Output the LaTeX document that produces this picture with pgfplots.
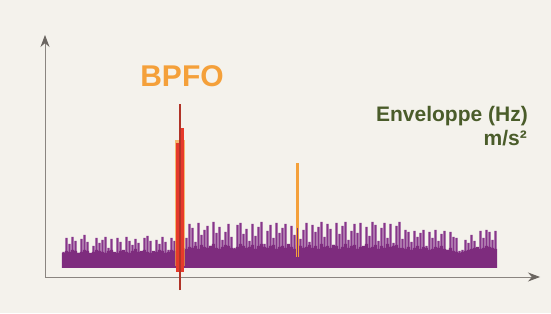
\documentclass[border=0pt]{standalone}
\usepackage{pgfplots}
\usepackage{pgfplotstable}
\pgfplotsset{compat=1.18}
\usepackage{fontspec}
\setmainfont{Liberation Sans}
\usetikzlibrary{arrows.meta}
\definecolor{bg}{HTML}{F4F2EC}
\definecolor{axgray}{HTML}{8A8580}
\definecolor{axdark}{HTML}{6A6560}
\definecolor{purp}{HTML}{7E2C7E}
\definecolor{purplight}{HTML}{86358A}
\definecolor{pkred}{HTML}{E63A2B}
\definecolor{pkdark}{HTML}{B03428}
\definecolor{pkorange}{HTML}{F4A03A}
\definecolor{txtgreen}{HTML}{4A5C2A}
% spike heights (one per 3 px step)
\pgfplotstableread[header=false,row sep=\\]{
16\\30\\24\\31\\27\\15\\29\\33\\26\\14\\
22\\30\\25\\28\\31\\20\\29\\15\\30\\26\\
16\\31\\27\\23\\29\\25\\16\\30\\32\\27\\
15\\28\\24\\31\\26\\18\\30\\27\\
20\\22\\20\\
30\\44\\40\\26\\45\\33\\38\\42\\22\\46\\
35\\41\\28\\36\\44\\31\\20\\43\\45\\34\\
39\\27\\44\\32\\41\\46\\24\\37\\43\\30\\
45\\35\\40\\44\\21\\42\\33\\46\\29\\38\\
45\\26\\43\\36\\41\\46\\31\\44\\39\\23\\
45\\34\\42\\46\\28\\37\\44\\35\\45\\19\\
41\\32\\46\\43\\27\\40\\45\\30\\44\\25\\
42\\46\\
29\\38\\36\\26\\37\\31\\35\\38\\22\\36\\
30\\38\\27\\34\\37\\18\\36\\31\\30\\17\\
18\\28\\25\\33\\27\\20\\37\\30\\38\\36\\
28\\37\\
}\spikedata
% solid band heights (one per 3 px step)
\pgfplotstableread[header=false,row sep=\\]{
15\\17\\16\\18\\17\\15\\16\\18\\17\\15\\
16\\18\\17\\16\\15\\17\\18\\16\\15\\17\\
18\\16\\15\\17\\19\\16\\17\\18\\16\\15\\
17\\16\\18\\17\\15\\16\\18\\17\\
18\\18\\18\\
19\\21\\20\\22\\19\\23\\21\\20\\22\\24\\
20\\19\\21\\23\\22\\20\\19\\21\\24\\22\\
20\\21\\23\\19\\22\\24\\21\\20\\22\\23\\
19\\21\\22\\20\\24\\21\\19\\23\\22\\20\\
21\\23\\20\\22\\19\\24\\21\\22\\20\\23\\
22\\19\\21\\24\\20\\22\\23\\19\\21\\22\\
24\\20\\21\\23\\19\\22\\20\\24\\21\\22\\
23\\20\\
20\\19\\21\\18\\20\\22\\19\\21\\20\\18\\
19\\21\\20\\22\\19\\18\\20\\17\\16\\15\\
16\\17\\18\\19\\20\\21\\19\\20\\22\\21\\
20\\19\\
}\basedata
\begin{document}
\begin{tikzpicture}
\fill[bg] (-45pt,-36pt) rectangle (506pt,277pt);
\begin{axis}[
  at={(0,0)}, anchor=south west,
  scale only axis, width=495pt, height=242pt,
  xmin=0, xmax=495, ymin=-9, ymax=233,
  axis lines=left,
  axis line style={draw=axgray, line width=0.9pt, -{Stealth[length=12pt,width=9pt,color=axdark]}},
  xtick=\empty, ytick=\empty,
  clip=false,
]
\addplot[ybar, bar width=2.3, fill=purplight, draw=none]
  table[x expr=\coordindex*3+18.5, y index=0] {\spikedata};
\addplot[ybar, bar width=3.3, fill=purp, draw=none]
  table[x expr=\coordindex*3+18.5, y index=0] {\basedata};
% BPFO peak
\addplot[pkorange, line width=10pt, opacity=0.7] coordinates {(135,2) (135,128)};
\addplot[pkred, line width=4pt] coordinates {(133,-4) (133,125)};
\addplot[pkred, line width=4pt] coordinates {(137,-4) (137,140)};
\addplot[pkdark, line width=1.5pt] coordinates {(135,-22) (135,164)};
% second harmonic line
\addplot[pkorange, line width=3pt] coordinates {(252,11) (252,105)};
\addplot[purp, line width=0.8pt] coordinates {(252,11) (252,40)};
\node[font=\bfseries\fontsize{30}{30}\selectfont, text=pkorange, anchor=center] at (axis cs:137,192) {BPFO};
\node[font=\bfseries\fontsize{21}{21}\selectfont, text=txtgreen, anchor=base east, inner sep=0pt] at (axis cs:483,146) {Enveloppe (Hz)};
\node[font=\bfseries\fontsize{21}{21}\selectfont, text=txtgreen, anchor=base east, inner sep=0pt] at (axis cs:482,122) {m/s²};
\end{axis}
\end{tikzpicture}
\end{document}
